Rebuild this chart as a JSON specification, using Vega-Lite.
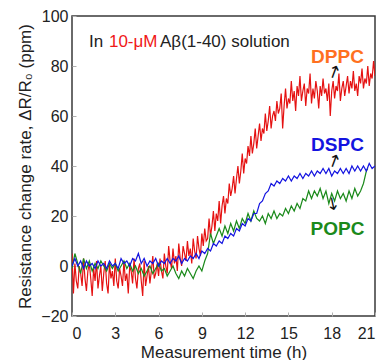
{
  "$schema": "https://vega.github.io/schema/vega-lite/v6.json",
  "autosize": "none",
  "width": 303,
  "height": 300,
  "padding": {"left": 72, "top": 16, "right": 8, "bottom": 44},
  "background": "white",
  "datasets": {
    "curves": [
      {"t":0.0,"v":5,"s":"DPPC"},{"t":0.1,"v":-11,"s":"DPPC"},{"t":0.2,"v":1,"s":"DPPC"},{"t":0.3,"v":-6,"s":"DPPC"},{"t":0.4,"v":-9,"s":"DPPC"},{"t":0.5,"v":0,"s":"DPPC"},{"t":0.6,"v":-3,"s":"DPPC"},{"t":0.7,"v":-8,"s":"DPPC"},{"t":0.8,"v":3,"s":"DPPC"},{"t":0.9,"v":-5,"s":"DPPC"},
      {"t":1.0,"v":-10,"s":"DPPC"},{"t":1.1,"v":-2,"s":"DPPC"},{"t":1.2,"v":1,"s":"DPPC"},{"t":1.3,"v":-5,"s":"DPPC"},{"t":1.4,"v":-12,"s":"DPPC"},{"t":1.5,"v":-1,"s":"DPPC"},{"t":1.6,"v":-6,"s":"DPPC"},{"t":1.7,"v":2,"s":"DPPC"},{"t":1.8,"v":-9,"s":"DPPC"},{"t":1.9,"v":-4,"s":"DPPC"},
      {"t":2.0,"v":0,"s":"DPPC"},{"t":2.1,"v":-10,"s":"DPPC"},{"t":2.2,"v":-3,"s":"DPPC"},{"t":2.3,"v":2,"s":"DPPC"},{"t":2.4,"v":-7,"s":"DPPC"},{"t":2.5,"v":-11,"s":"DPPC"},{"t":2.6,"v":1,"s":"DPPC"},{"t":2.7,"v":-5,"s":"DPPC"},{"t":2.8,"v":-2,"s":"DPPC"},{"t":2.9,"v":-8,"s":"DPPC"},
      {"t":3.0,"v":3,"s":"DPPC"},{"t":3.1,"v":-6,"s":"DPPC"},{"t":3.2,"v":-9,"s":"DPPC"},{"t":3.3,"v":-1,"s":"DPPC"},{"t":3.4,"v":-4,"s":"DPPC"},{"t":3.5,"v":-8,"s":"DPPC"},{"t":3.6,"v":2,"s":"DPPC"},{"t":3.7,"v":-6,"s":"DPPC"},{"t":3.8,"v":-3,"s":"DPPC"},{"t":3.9,"v":-11,"s":"DPPC"},
      {"t":4.0,"v":0,"s":"DPPC"},{"t":4.1,"v":-2,"s":"DPPC"},{"t":4.2,"v":-7,"s":"DPPC"},{"t":4.3,"v":3,"s":"DPPC"},{"t":4.4,"v":-5,"s":"DPPC"},{"t":4.5,"v":-9,"s":"DPPC"},{"t":4.6,"v":-1,"s":"DPPC"},{"t":4.7,"v":1,"s":"DPPC"},{"t":4.8,"v":-6,"s":"DPPC"},{"t":4.9,"v":-12,"s":"DPPC"},
      {"t":5.0,"v":2,"s":"DPPC"},{"t":5.1,"v":-8,"s":"DPPC"},{"t":5.2,"v":-4,"s":"DPPC"},{"t":5.3,"v":0,"s":"DPPC"},{"t":5.4,"v":-7,"s":"DPPC"},{"t":5.5,"v":-2,"s":"DPPC"},{"t":5.6,"v":4,"s":"DPPC"},{"t":5.7,"v":-5,"s":"DPPC"},{"t":5.8,"v":-3,"s":"DPPC"},{"t":5.9,"v":1,"s":"DPPC"},
      {"t":6.0,"v":-4,"s":"DPPC"},{"t":6.1,"v":3,"s":"DPPC"},{"t":6.2,"v":-2,"s":"DPPC"},{"t":6.3,"v":-5,"s":"DPPC"},{"t":6.4,"v":5,"s":"DPPC"},{"t":6.5,"v":0,"s":"DPPC"},{"t":6.6,"v":-3,"s":"DPPC"},{"t":6.7,"v":8,"s":"DPPC"},{"t":6.8,"v":2,"s":"DPPC"},{"t":6.9,"v":-1,"s":"DPPC"},
      {"t":7.0,"v":7,"s":"DPPC"},{"t":7.1,"v":1,"s":"DPPC"},{"t":7.2,"v":4,"s":"DPPC"},{"t":7.3,"v":-2,"s":"DPPC"},{"t":7.4,"v":9,"s":"DPPC"},{"t":7.5,"v":3,"s":"DPPC"},{"t":7.6,"v":0,"s":"DPPC"},{"t":7.7,"v":8,"s":"DPPC"},{"t":7.8,"v":5,"s":"DPPC"},{"t":7.9,"v":2,"s":"DPPC"},
      {"t":8.0,"v":10,"s":"DPPC"},{"t":8.1,"v":4,"s":"DPPC"},{"t":8.2,"v":7,"s":"DPPC"},{"t":8.3,"v":1,"s":"DPPC"},{"t":8.4,"v":11,"s":"DPPC"},{"t":8.5,"v":6,"s":"DPPC"},{"t":8.6,"v":3,"s":"DPPC"},{"t":8.7,"v":12,"s":"DPPC"},{"t":8.8,"v":7,"s":"DPPC"},{"t":8.9,"v":4,"s":"DPPC"},
      {"t":9.0,"v":13,"s":"DPPC"},{"t":9.1,"v":8,"s":"DPPC"},{"t":9.2,"v":15,"s":"DPPC"},{"t":9.3,"v":10,"s":"DPPC"},{"t":9.4,"v":11,"s":"DPPC"},{"t":9.5,"v":19,"s":"DPPC"},{"t":9.6,"v":12,"s":"DPPC"},{"t":9.7,"v":16,"s":"DPPC"},{"t":9.8,"v":22,"s":"DPPC"},{"t":9.9,"v":14,"s":"DPPC"},
      {"t":10.0,"v":21,"s":"DPPC"},{"t":10.1,"v":18,"s":"DPPC"},{"t":10.2,"v":26,"s":"DPPC"},{"t":10.3,"v":17,"s":"DPPC"},{"t":10.4,"v":24,"s":"DPPC"},{"t":10.5,"v":28,"s":"DPPC"},{"t":10.6,"v":21,"s":"DPPC"},{"t":10.7,"v":27,"s":"DPPC"},{"t":10.8,"v":25,"s":"DPPC"},{"t":10.9,"v":33,"s":"DPPC"},
      {"t":11.0,"v":28,"s":"DPPC"},{"t":11.1,"v":31,"s":"DPPC"},{"t":11.2,"v":36,"s":"DPPC"},{"t":11.3,"v":29,"s":"DPPC"},{"t":11.4,"v":35,"s":"DPPC"},{"t":11.5,"v":40,"s":"DPPC"},{"t":11.6,"v":33,"s":"DPPC"},{"t":11.7,"v":38,"s":"DPPC"},{"t":11.8,"v":45,"s":"DPPC"},{"t":11.9,"v":37,"s":"DPPC"},
      {"t":12.0,"v":43,"s":"DPPC"},{"t":12.1,"v":41,"s":"DPPC"},{"t":12.2,"v":48,"s":"DPPC"},{"t":12.3,"v":44,"s":"DPPC"},{"t":12.4,"v":52,"s":"DPPC"},{"t":12.5,"v":45,"s":"DPPC"},{"t":12.6,"v":49,"s":"DPPC"},{"t":12.7,"v":55,"s":"DPPC"},{"t":12.8,"v":47,"s":"DPPC"},{"t":12.9,"v":52,"s":"DPPC"},
      {"t":13.0,"v":57,"s":"DPPC"},{"t":13.1,"v":50,"s":"DPPC"},{"t":13.2,"v":55,"s":"DPPC"},{"t":13.3,"v":53,"s":"DPPC"},{"t":13.4,"v":61,"s":"DPPC"},{"t":13.5,"v":54,"s":"DPPC"},{"t":13.6,"v":58,"s":"DPPC"},{"t":13.7,"v":64,"s":"DPPC"},{"t":13.8,"v":55,"s":"DPPC"},{"t":13.9,"v":60,"s":"DPPC"},
      {"t":14.0,"v":62,"s":"DPPC"},{"t":14.1,"v":58,"s":"DPPC"},{"t":14.2,"v":66,"s":"DPPC"},{"t":14.3,"v":61,"s":"DPPC"},{"t":14.4,"v":63,"s":"DPPC"},{"t":14.5,"v":69,"s":"DPPC"},{"t":14.6,"v":55,"s":"DPPC"},{"t":14.7,"v":64,"s":"DPPC"},{"t":14.8,"v":71,"s":"DPPC"},{"t":14.9,"v":63,"s":"DPPC"},
      {"t":15.0,"v":67,"s":"DPPC"},{"t":15.1,"v":65,"s":"DPPC"},{"t":15.2,"v":74,"s":"DPPC"},{"t":15.3,"v":66,"s":"DPPC"},{"t":15.4,"v":70,"s":"DPPC"},{"t":15.5,"v":62,"s":"DPPC"},{"t":15.6,"v":72,"s":"DPPC"},{"t":15.7,"v":68,"s":"DPPC"},{"t":15.8,"v":76,"s":"DPPC"},{"t":15.9,"v":66,"s":"DPPC"},
      {"t":16.0,"v":70,"s":"DPPC"},{"t":16.1,"v":73,"s":"DPPC"},{"t":16.2,"v":64,"s":"DPPC"},{"t":16.3,"v":71,"s":"DPPC"},{"t":16.4,"v":69,"s":"DPPC"},{"t":16.5,"v":77,"s":"DPPC"},{"t":16.6,"v":65,"s":"DPPC"},{"t":16.7,"v":71,"s":"DPPC"},{"t":16.8,"v":67,"s":"DPPC"},{"t":16.9,"v":74,"s":"DPPC"},
      {"t":17.0,"v":70,"s":"DPPC"},{"t":17.1,"v":63,"s":"DPPC"},{"t":17.2,"v":72,"s":"DPPC"},{"t":17.3,"v":68,"s":"DPPC"},{"t":17.4,"v":75,"s":"DPPC"},{"t":17.5,"v":69,"s":"DPPC"},{"t":17.6,"v":71,"s":"DPPC"},{"t":17.7,"v":66,"s":"DPPC"},{"t":17.8,"v":73,"s":"DPPC"},{"t":17.9,"v":60,"s":"DPPC"},
      {"t":18.0,"v":70,"s":"DPPC"},{"t":18.1,"v":74,"s":"DPPC"},{"t":18.2,"v":67,"s":"DPPC"},{"t":18.3,"v":72,"s":"DPPC"},{"t":18.4,"v":70,"s":"DPPC"},{"t":18.5,"v":77,"s":"DPPC"},{"t":18.6,"v":66,"s":"DPPC"},{"t":18.7,"v":71,"s":"DPPC"},{"t":18.8,"v":74,"s":"DPPC"},{"t":18.9,"v":68,"s":"DPPC"},
      {"t":19.0,"v":72,"s":"DPPC"},{"t":19.1,"v":76,"s":"DPPC"},{"t":19.2,"v":69,"s":"DPPC"},{"t":19.3,"v":74,"s":"DPPC"},{"t":19.4,"v":71,"s":"DPPC"},{"t":19.5,"v":78,"s":"DPPC"},{"t":19.6,"v":70,"s":"DPPC"},{"t":19.7,"v":73,"s":"DPPC"},{"t":19.8,"v":68,"s":"DPPC"},{"t":19.9,"v":76,"s":"DPPC"},
      {"t":20.0,"v":73,"s":"DPPC"},{"t":20.1,"v":79,"s":"DPPC"},{"t":20.2,"v":71,"s":"DPPC"},{"t":20.3,"v":75,"s":"DPPC"},{"t":20.4,"v":73,"s":"DPPC"},{"t":20.5,"v":80,"s":"DPPC"},{"t":20.6,"v":72,"s":"DPPC"},{"t":20.7,"v":77,"s":"DPPC"},{"t":20.8,"v":75,"s":"DPPC"},{"t":20.9,"v":82,"s":"DPPC"},
      {"t":21.0,"v":76,"s":"DPPC"},

      {"t":0.0,"v":-1,"s":"POPC"},{"t":0.2,"v":5,"s":"POPC"},{"t":0.4,"v":1,"s":"POPC"},{"t":0.6,"v":-3,"s":"POPC"},{"t":0.8,"v":3,"s":"POPC"},{"t":1.0,"v":-1,"s":"POPC"},{"t":1.2,"v":2,"s":"POPC"},{"t":1.4,"v":-2,"s":"POPC"},{"t":1.6,"v":1,"s":"POPC"},{"t":1.8,"v":-1,"s":"POPC"},
      {"t":2.0,"v":2,"s":"POPC"},{"t":2.2,"v":0,"s":"POPC"},{"t":2.4,"v":-2,"s":"POPC"},{"t":2.6,"v":1,"s":"POPC"},{"t":2.8,"v":-1,"s":"POPC"},{"t":3.0,"v":1,"s":"POPC"},{"t":3.2,"v":-2,"s":"POPC"},{"t":3.4,"v":0,"s":"POPC"},{"t":3.6,"v":2,"s":"POPC"},{"t":3.8,"v":-1,"s":"POPC"},
      {"t":4.0,"v":1,"s":"POPC"},{"t":4.2,"v":-2,"s":"POPC"},{"t":4.4,"v":0,"s":"POPC"},{"t":4.6,"v":-3,"s":"POPC"},{"t":4.8,"v":-1,"s":"POPC"},{"t":5.0,"v":-4,"s":"POPC"},{"t":5.2,"v":-2,"s":"POPC"},{"t":5.4,"v":0,"s":"POPC"},{"t":5.6,"v":-3,"s":"POPC"},{"t":5.8,"v":-1,"s":"POPC"},
      {"t":6.0,"v":1,"s":"POPC"},{"t":6.2,"v":-2,"s":"POPC"},{"t":6.4,"v":-1,"s":"POPC"},{"t":6.6,"v":-4,"s":"POPC"},{"t":6.8,"v":-2,"s":"POPC"},{"t":7.0,"v":0,"s":"POPC"},{"t":7.2,"v":-3,"s":"POPC"},{"t":7.4,"v":-5,"s":"POPC"},{"t":7.6,"v":-2,"s":"POPC"},{"t":7.8,"v":-4,"s":"POPC"},
      {"t":8.0,"v":-1,"s":"POPC"},{"t":8.2,"v":-3,"s":"POPC"},{"t":8.4,"v":-5,"s":"POPC"},{"t":8.6,"v":-2,"s":"POPC"},{"t":8.8,"v":0,"s":"POPC"},{"t":9.0,"v":-2,"s":"POPC"},{"t":9.2,"v":2,"s":"POPC"},{"t":9.4,"v":5,"s":"POPC"},{"t":9.6,"v":13,"s":"POPC"},{"t":9.8,"v":9,"s":"POPC"},
      {"t":10.0,"v":12,"s":"POPC"},{"t":10.2,"v":15,"s":"POPC"},{"t":10.4,"v":12,"s":"POPC"},{"t":10.6,"v":16,"s":"POPC"},{"t":10.8,"v":13,"s":"POPC"},{"t":11.0,"v":17,"s":"POPC"},{"t":11.2,"v":14,"s":"POPC"},{"t":11.4,"v":18,"s":"POPC"},{"t":11.6,"v":15,"s":"POPC"},{"t":11.8,"v":19,"s":"POPC"},
      {"t":12.0,"v":17,"s":"POPC"},{"t":12.2,"v":21,"s":"POPC"},{"t":12.4,"v":18,"s":"POPC"},{"t":12.6,"v":22,"s":"POPC"},{"t":12.8,"v":19,"s":"POPC"},{"t":13.0,"v":18,"s":"POPC"},{"t":13.2,"v":20,"s":"POPC"},{"t":13.4,"v":17,"s":"POPC"},{"t":13.6,"v":21,"s":"POPC"},{"t":13.8,"v":19,"s":"POPC"},
      {"t":14.0,"v":22,"s":"POPC"},{"t":14.2,"v":19,"s":"POPC"},{"t":14.4,"v":21,"s":"POPC"},{"t":14.6,"v":20,"s":"POPC"},{"t":14.8,"v":23,"s":"POPC"},{"t":15.0,"v":21,"s":"POPC"},{"t":15.2,"v":24,"s":"POPC"},{"t":15.4,"v":22,"s":"POPC"},{"t":15.6,"v":25,"s":"POPC"},{"t":15.8,"v":23,"s":"POPC"},
      {"t":16.0,"v":27,"s":"POPC"},{"t":16.2,"v":26,"s":"POPC"},{"t":16.4,"v":30,"s":"POPC"},{"t":16.6,"v":27,"s":"POPC"},{"t":16.8,"v":30,"s":"POPC"},{"t":17.0,"v":28,"s":"POPC"},{"t":17.2,"v":31,"s":"POPC"},{"t":17.4,"v":27,"s":"POPC"},{"t":17.6,"v":30,"s":"POPC"},{"t":17.8,"v":25,"s":"POPC"},
      {"t":18.0,"v":29,"s":"POPC"},{"t":18.2,"v":26,"s":"POPC"},{"t":18.4,"v":30,"s":"POPC"},{"t":18.6,"v":27,"s":"POPC"},{"t":18.8,"v":29,"s":"POPC"},{"t":19.0,"v":26,"s":"POPC"},{"t":19.2,"v":30,"s":"POPC"},{"t":19.4,"v":27,"s":"POPC"},{"t":19.6,"v":31,"s":"POPC"},{"t":19.8,"v":28,"s":"POPC"},
      {"t":20.0,"v":30,"s":"POPC"},{"t":20.2,"v":33,"s":"POPC"},{"t":20.4,"v":38,"s":"POPC"},{"t":20.5,"v":39,"s":"POPC"},

      {"t":0.0,"v":0,"s":"DSPC"},{"t":0.2,"v":3,"s":"DSPC"},{"t":0.4,"v":0,"s":"DSPC"},{"t":0.6,"v":2,"s":"DSPC"},{"t":0.8,"v":-1,"s":"DSPC"},{"t":1.0,"v":2,"s":"DSPC"},{"t":1.2,"v":0,"s":"DSPC"},{"t":1.4,"v":1,"s":"DSPC"},{"t":1.6,"v":-1,"s":"DSPC"},{"t":1.8,"v":2,"s":"DSPC"},
      {"t":2.0,"v":0,"s":"DSPC"},{"t":2.2,"v":1,"s":"DSPC"},{"t":2.4,"v":-1,"s":"DSPC"},{"t":2.6,"v":2,"s":"DSPC"},{"t":2.8,"v":0,"s":"DSPC"},{"t":3.0,"v":1,"s":"DSPC"},{"t":3.2,"v":-1,"s":"DSPC"},{"t":3.4,"v":3,"s":"DSPC"},{"t":3.6,"v":1,"s":"DSPC"},{"t":3.8,"v":2,"s":"DSPC"},
      {"t":4.0,"v":0,"s":"DSPC"},{"t":4.2,"v":3,"s":"DSPC"},{"t":4.4,"v":2,"s":"DSPC"},{"t":4.6,"v":5,"s":"DSPC"},{"t":4.8,"v":1,"s":"DSPC"},{"t":5.0,"v":3,"s":"DSPC"},{"t":5.2,"v":0,"s":"DSPC"},{"t":5.4,"v":2,"s":"DSPC"},{"t":5.6,"v":1,"s":"DSPC"},{"t":5.8,"v":3,"s":"DSPC"},
      {"t":6.0,"v":0,"s":"DSPC"},{"t":6.2,"v":2,"s":"DSPC"},{"t":6.4,"v":1,"s":"DSPC"},{"t":6.6,"v":3,"s":"DSPC"},{"t":6.8,"v":1,"s":"DSPC"},{"t":7.0,"v":3,"s":"DSPC"},{"t":7.2,"v":2,"s":"DSPC"},{"t":7.4,"v":4,"s":"DSPC"},{"t":7.6,"v":1,"s":"DSPC"},{"t":7.8,"v":3,"s":"DSPC"},
      {"t":8.0,"v":2,"s":"DSPC"},{"t":8.2,"v":4,"s":"DSPC"},{"t":8.4,"v":3,"s":"DSPC"},{"t":8.6,"v":5,"s":"DSPC"},{"t":8.8,"v":3,"s":"DSPC"},{"t":9.0,"v":6,"s":"DSPC"},{"t":9.2,"v":5,"s":"DSPC"},{"t":9.4,"v":7,"s":"DSPC"},{"t":9.6,"v":6,"s":"DSPC"},{"t":9.8,"v":9,"s":"DSPC"},
      {"t":10.0,"v":8,"s":"DSPC"},{"t":10.2,"v":10,"s":"DSPC"},{"t":10.4,"v":9,"s":"DSPC"},{"t":10.6,"v":12,"s":"DSPC"},{"t":10.8,"v":11,"s":"DSPC"},{"t":11.0,"v":13,"s":"DSPC"},{"t":11.2,"v":12,"s":"DSPC"},{"t":11.4,"v":15,"s":"DSPC"},{"t":11.6,"v":14,"s":"DSPC"},{"t":11.8,"v":17,"s":"DSPC"},
      {"t":12.0,"v":16,"s":"DSPC"},{"t":12.2,"v":19,"s":"DSPC"},{"t":12.4,"v":18,"s":"DSPC"},{"t":12.6,"v":21,"s":"DSPC"},{"t":12.8,"v":21,"s":"DSPC"},{"t":13.0,"v":25,"s":"DSPC"},{"t":13.2,"v":26,"s":"DSPC"},{"t":13.4,"v":29,"s":"DSPC"},{"t":13.6,"v":30,"s":"DSPC"},{"t":13.8,"v":33,"s":"DSPC"},
      {"t":14.0,"v":32,"s":"DSPC"},{"t":14.2,"v":34,"s":"DSPC"},{"t":14.4,"v":33,"s":"DSPC"},{"t":14.6,"v":35,"s":"DSPC"},{"t":14.8,"v":34,"s":"DSPC"},{"t":15.0,"v":36,"s":"DSPC"},{"t":15.2,"v":34,"s":"DSPC"},{"t":15.4,"v":36,"s":"DSPC"},{"t":15.6,"v":35,"s":"DSPC"},{"t":15.8,"v":37,"s":"DSPC"},
      {"t":16.0,"v":35,"s":"DSPC"},{"t":16.2,"v":37,"s":"DSPC"},{"t":16.4,"v":36,"s":"DSPC"},{"t":16.6,"v":38,"s":"DSPC"},{"t":16.8,"v":36,"s":"DSPC"},{"t":17.0,"v":38,"s":"DSPC"},{"t":17.2,"v":37,"s":"DSPC"},{"t":17.4,"v":39,"s":"DSPC"},{"t":17.6,"v":37,"s":"DSPC"},{"t":17.8,"v":39,"s":"DSPC"},
      {"t":18.0,"v":36,"s":"DSPC"},{"t":18.2,"v":38,"s":"DSPC"},{"t":18.4,"v":37,"s":"DSPC"},{"t":18.6,"v":39,"s":"DSPC"},{"t":18.8,"v":37,"s":"DSPC"},{"t":19.0,"v":39,"s":"DSPC"},{"t":19.2,"v":37,"s":"DSPC"},{"t":19.4,"v":40,"s":"DSPC"},{"t":19.6,"v":38,"s":"DSPC"},{"t":19.8,"v":40,"s":"DSPC"},
      {"t":20.0,"v":38,"s":"DSPC"},{"t":20.2,"v":40,"s":"DSPC"},{"t":20.4,"v":38,"s":"DSPC"},{"t":20.6,"v":41,"s":"DSPC"},{"t":20.8,"v":39,"s":"DSPC"},{"t":21.0,"v":40,"s":"DSPC"}
    ]
  },
  "encoding": {
    "x": {"field": "t", "type": "quantitative", "scale": {"domain": [0, 21], "nice": false, "zero": false},
      "axis": {"title": "Measurement time (h)", "values": [0, 3, 6, 9, 12, 15, 18, 21], "labelPadding": 13, "titlePadding": 3}},
    "y": {"field": "v", "type": "quantitative", "scale": {"domain": [-20, 100], "nice": false},
      "axis": {"title": "Resistance change rate, ΔR/R₀ (ppm)", "values": [-20, 0, 20, 40, 60, 80, 100], "labelPadding": 8, "titlePadding": 6}}
  },
  "layer": [
    {
      "data": {"name": "curves"},
      "mark": {"type": "line", "strokeWidth": 1.2, "clip": true},
      "encoding": {
        "color": {"field": "s", "type": "nominal", "scale": {"domain": ["DPPC", "POPC", "DSPC"], "range": ["#e51212", "#1b8a1b", "#1414e0"]}, "legend": null},
        "order": {"field": "t", "type": "quantitative"}
      }
    },
    {
      "data": {"values": [{"t": 1.18, "v": 87.6, "label": "In"}, {"t": 6.1, "v": 87.6, "label": "Aβ(1-40) solution"}]},
      "mark": {"type": "text", "align": "left", "baseline": "alphabetic", "font": "Liberation Sans", "fontSize": 17, "color": "#222"},
      "encoding": {"text": {"field": "label"}}
    },
    {
      "data": {"values": [{"t": 2.56, "v": 87.6, "label": "10-μM"}]},
      "mark": {"type": "text", "align": "left", "baseline": "alphabetic", "font": "Liberation Sans", "fontSize": 17, "color": "#f01818"},
      "encoding": {"text": {"field": "label"}}
    },
    {
      "data": {"values": [{"t": 18.4, "v": 81.2, "label": "DPPC"}]},
      "mark": {"type": "text", "align": "center", "baseline": "alphabetic", "font": "Liberation Sans", "fontSize": 19, "fontWeight": "bold", "color": "#ff7020"},
      "encoding": {"text": {"field": "label"}}
    },
    {
      "data": {"values": [{"t": 18.4, "v": 46, "label": "DSPC"}]},
      "mark": {"type": "text", "align": "center", "baseline": "alphabetic", "font": "Liberation Sans", "fontSize": 19, "fontWeight": "bold", "color": "#1414e0"},
      "encoding": {"text": {"field": "label"}}
    },
    {
      "data": {"values": [{"t": 18.4, "v": 12.4, "label": "POPC"}]},
      "mark": {"type": "text", "align": "center", "baseline": "alphabetic", "font": "Liberation Sans", "fontSize": 19, "fontWeight": "bold", "color": "#1b8a1b"},
      "encoding": {"text": {"field": "label"}}
    },
    {
      "data": {"values": [{"t": 18.16, "v": 77.2, "label": "↑"}, {"t": 18.16, "v": 41.6, "label": "↑"}]},
      "mark": {"type": "text", "align": "center", "baseline": "middle", "font": "DejaVu Sans", "fontSize": 17, "angle": 20, "color": "#111"},
      "encoding": {"text": {"field": "label"}}
    },
    {
      "data": {"values": [{"t": 18.09, "v": 24.4, "label": "↓"}]},
      "mark": {"type": "text", "align": "center", "baseline": "middle", "font": "DejaVu Sans", "fontSize": 17, "angle": -12, "color": "#111"},
      "encoding": {"text": {"field": "label"}}
    }
  ],
  "config": {
    "view": {"stroke": "#3a3a3a", "strokeWidth": 1.5},
    "axis": {
      "labelFont": "Liberation Sans", "labelFontSize": 16, "labelColor": "#222",
      "titleFont": "Liberation Sans", "titleFontSize": 17, "titleFontWeight": "normal", "titleColor": "#222",
      "grid": false, "domain": false, "tickColor": "#b0b0b0", "tickSize": -4
    }
  }
}
